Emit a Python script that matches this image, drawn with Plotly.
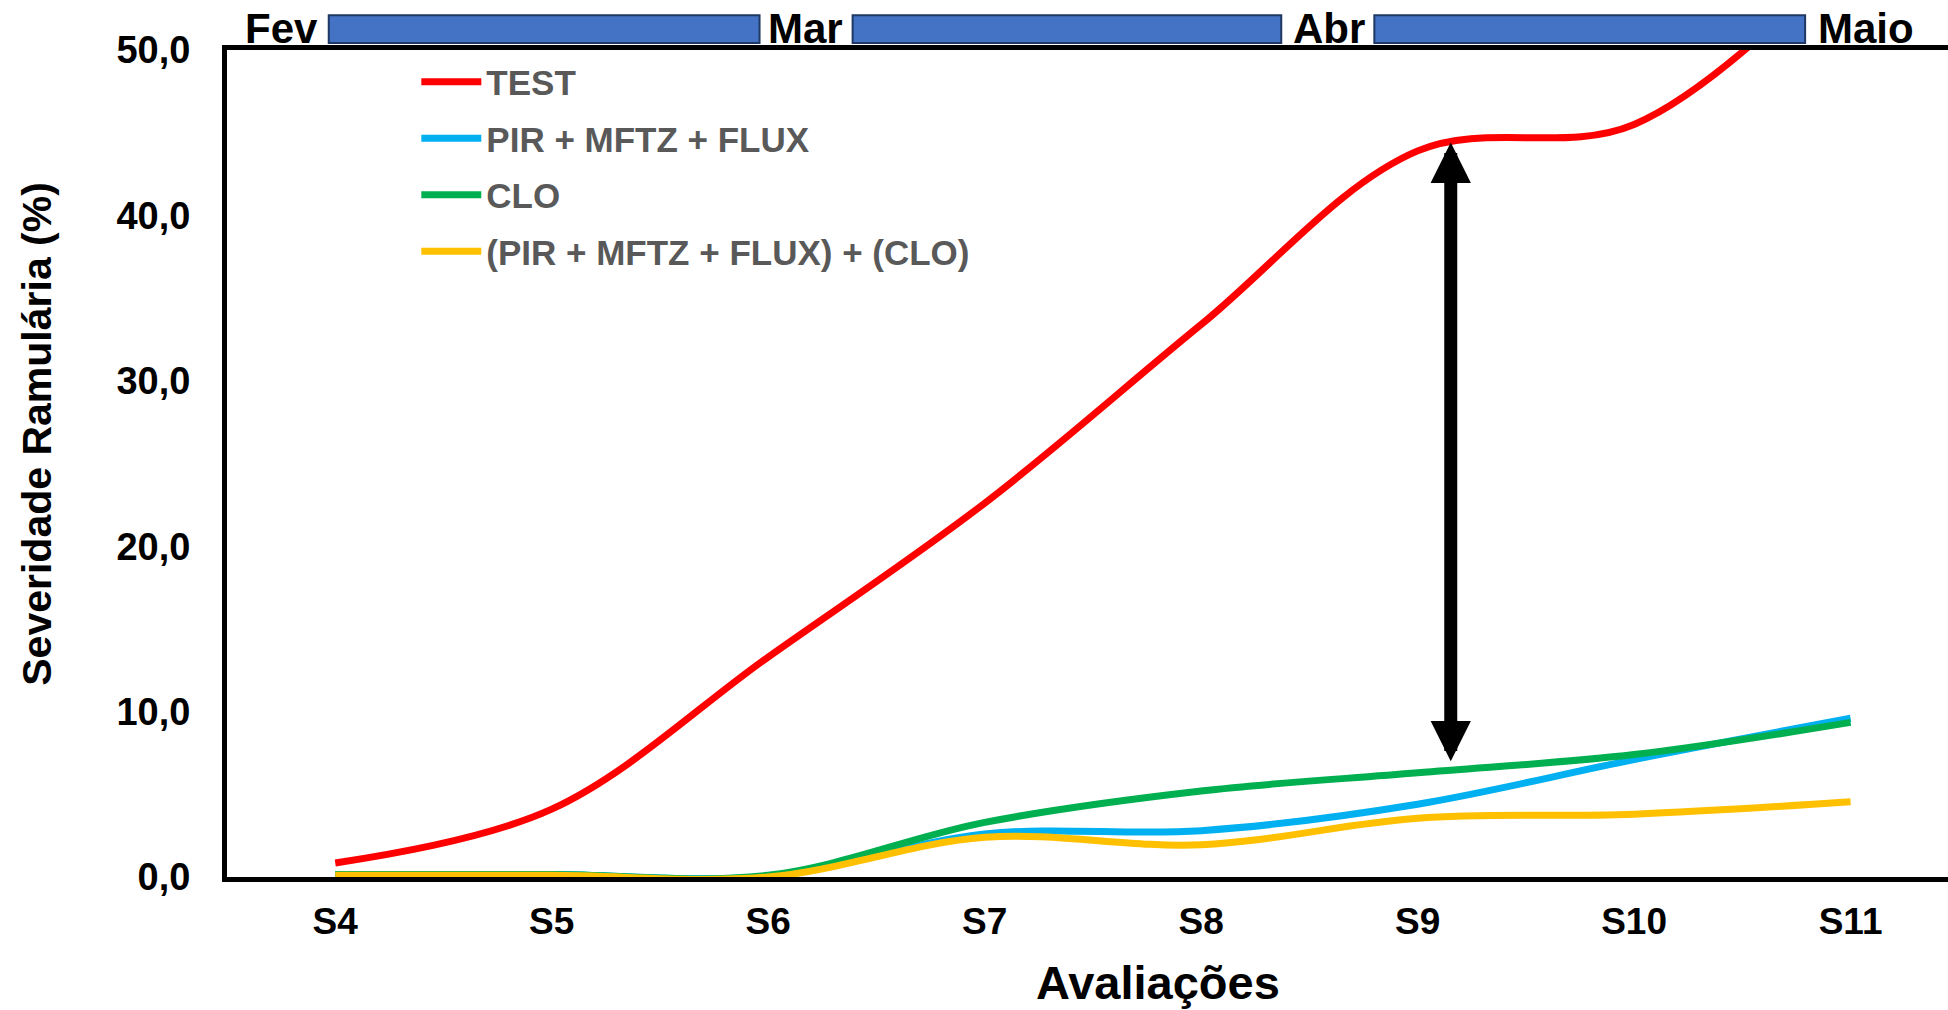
import plotly.graph_objects as go

# ---- data ----
avaliacoes = ["S4", "S5", "S6", "S7", "S8", "S9", "S10", "S11"]
test = [0.85, 4.1, 13.3, 22.6, 33.4, 43.9, 45.5, 56.0]
pir_mftz_flux = [0.15, 0.15, 0.05, 2.6, 2.8, 4.4, 7.1, 9.6]
clo = [0.15, 0.15, 0.1, 3.3, 5.2, 6.3, 7.4, 9.35]
combo = [0.1, 0.1, 0.0, 2.4, 1.95, 3.55, 3.8, 4.55]
months = ["Fev", "Mar", "Abr", "Maio"]
y_ticks = [0, 10, 20, 30, 40, 50]

series = [
    ("TEST", test, "#FF0000"),
    ("PIR + MFTZ + FLUX", pir_mftz_flux, "#00B0F0"),
    ("CLO", clo, "#00B050"),
    ("(PIR + MFTZ + FLUX) + (CLO)", combo, "#FFC000"),
]

FONT = "Liberation Sans, Arial, sans-serif"
xs = list(range(len(avaliacoes)))

fig = go.Figure()
for i, (name, vals, col) in enumerate(series):
    fig.add_trace(go.Scatter(
        x=xs, y=vals, name=name, mode="lines",
        line=dict(color=col, width=7, shape="spline", smoothing=1),
        legendgroup=f"g{i}",
    ))

# arrow between TEST and treatments
fig.add_annotation(
    x=5.153, y=44.4, ax=5.153, ay=6.9, xref="x", yref="y", axref="x", ayref="y",
    showarrow=True, arrowhead=2, startarrowhead=2, arrowside="end+start",
    arrowwidth=13, arrowsize=0.62, startarrowsize=0.62, arrowcolor="black", text="",
)

# month bar on top
month_pos = [-0.25, 2.17, 4.59, 7.07]
for m, p in zip(months, month_pos):
    fig.add_annotation(x=p, y=1.026, xref="x", yref="paper", text=m, showarrow=False,
                       font=dict(family=FONT, size=42, color="black", weight="bold"),
                       xanchor="center", yanchor="middle")
bars = [(-0.03, 1.96), (2.39, 4.37), (4.80, 6.79)]
for x0, x1 in bars:
    fig.add_shape(type="rect", x0=x0, x1=x1, y0=1.0085, y1=1.042, xref="x", yref="paper",
                  fillcolor="#4472C4", line=dict(color="#1F3864", width=2), layer="above")

# axis titles
fig.add_annotation(x=0.541, y=-0.128, xref="paper", yref="paper", text="Avaliações",
                   showarrow=False, font=dict(family=FONT, size=47, color="black", weight="bold"),
                   xanchor="center", yanchor="middle")
fig.add_annotation(x=-0.1104, y=0.536, xref="paper", yref="paper", text="Severidade Ramulária (%)",
                   showarrow=False, textangle=-90,
                   font=dict(family=FONT, size=41, color="black", weight="bold"),
                   xanchor="center", yanchor="middle")

fig.update_layout(
    width=1948, height=1010,
    margin=dict(l=227, r=0, t=50, b=133),
    plot_bgcolor="white", paper_bgcolor="white",
    separators=",.",
    showlegend=True,
    legend=dict(x=0.110, y=0.997, xanchor="left", yanchor="top",
                font=dict(family=FONT, size=35, color="#595959", weight="bold"),
                bgcolor="rgba(0,0,0,0)", traceorder="grouped", tracegroupgap=8,
                itemwidth=60),
    xaxis=dict(range=[-0.5, 7.45], tickmode="array", tickvals=xs, ticktext=avaliacoes,
               showgrid=False, zeroline=False, showline=True, linecolor="black", linewidth=5,
               mirror=True, ticks="outside", ticklen=8, tickcolor="rgba(0,0,0,0)",
               tickfont=dict(family=FONT, size=37, color="black", weight="bold")),
    yaxis=dict(range=[0, 50], tickmode="array", tickvals=y_ticks, tickformat=".1f",
               showgrid=False, zeroline=False, showline=True, linecolor="black", linewidth=5,
               ticks="outside", ticklen=24, tickcolor="rgba(0,0,0,0)",
               tickfont=dict(family=FONT, size=38, color="black", weight="bold")),
)

fig.write_html("out.html", config={"displayModeBar": False},
               post_script="document.body.style.margin='0';")
